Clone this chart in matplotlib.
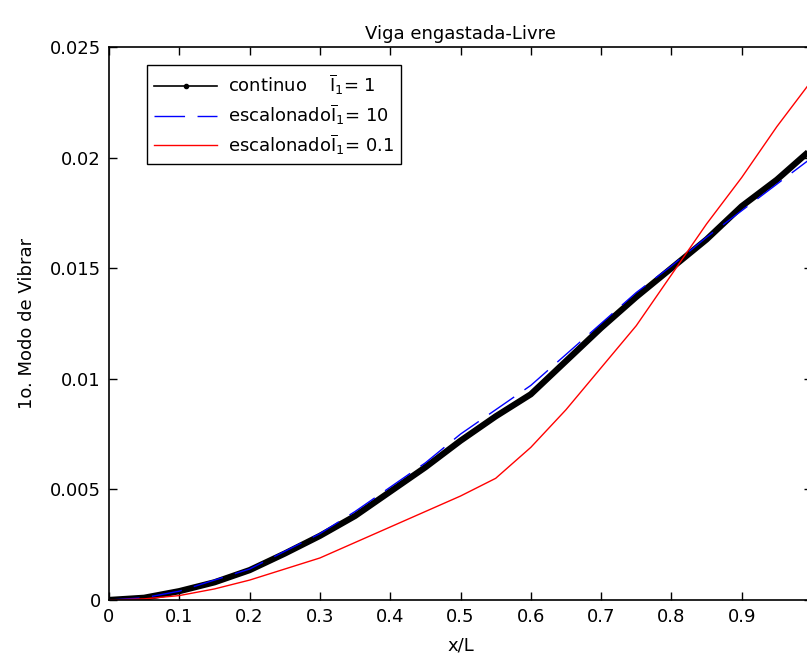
import matplotlib
matplotlib.use('Agg')
import matplotlib.pyplot as plt
from matplotlib.lines import Line2D
from matplotlib.ticker import FuncFormatter

plt.rcParams['font.family'] = ['DejaVu Sans']
plt.rcParams['mathtext.fontset'] = 'dejavusans'

# --- dados ---
x = [0.0, 0.05, 0.1, 0.15, 0.2, 0.25, 0.3, 0.35, 0.4, 0.45, 0.5,
     0.55, 0.6, 0.65, 0.7, 0.75, 0.8, 0.85, 0.9, 0.95, 1.0]
continuo = [0.0, 0.0001, 0.0004, 0.0008, 0.00135, 0.0021, 0.0029, 0.0038, 0.0049, 0.0060, 0.0072,
            0.0083, 0.0093, 0.0108, 0.0123, 0.0137, 0.0150, 0.0163, 0.0178, 0.0190, 0.0204]
escal_10 = [0.0, 0.0001, 0.0004, 0.0009, 0.0014, 0.0022, 0.0030, 0.0040, 0.0051, 0.0062, 0.0075,
            0.0086, 0.0097, 0.0111, 0.0125, 0.0139, 0.0151, 0.0164, 0.0176, 0.0188, 0.0200]
escal_01 = [0.0, 0.00005, 0.0002, 0.0005, 0.0009, 0.0014, 0.0019, 0.0026, 0.0033, 0.0040, 0.0047,
            0.0055, 0.0069, 0.0086, 0.0105, 0.0124, 0.0147, 0.0170, 0.0191, 0.0214, 0.0235]

labels = [r'continuo    $\overline{\mathrm{I}}_1$= 1',
          r'escalonado$\overline{\mathrm{I}}_1$= 10',
          r'escalonado$\overline{\mathrm{I}}_1$= 0.1']

xticks = [i / 10 for i in range(11)]
xticklabels = ['0', '0.1', '0.2', '0.3', '0.4', '0.5', '0.6', '0.7', '0.8', '0.9', '']
yticks = [0, 0.005, 0.01, 0.015, 0.02, 0.025]

fig = plt.figure(figsize=(8.07, 6.55), dpi=100)
# eixo vai um pouco alem da borda direita, como no original
ax = fig.add_axes([109 / 807, 55 / 655, 703 / 807, 553 / 655])

ax.plot(x, continuo, color='k', lw=4.5, solid_capstyle='butt')
ax.plot(x, escal_10, color='b', lw=1, dashes=(22, 9))
ax.plot(x, escal_01, color='r', lw=1)

ax.set_xlim(0, 1)
ax.set_ylim(0, 0.025)
ax.set_xticks(xticks)
ax.set_xticklabels(xticklabels)
ax.set_yticks(yticks)
ax.yaxis.set_major_formatter(FuncFormatter(lambda v, p: '%g' % round(v, 4)))
ax.tick_params(direction='in', top=True, right=True, length=6, width=1,
               labelsize=13, pad=6)
for s in ax.spines.values():
    s.set_linewidth(1.2)

ax.set_title('Viga engastada-Livre', fontsize=13, pad=6)
ax.set_xlabel('x/L', fontsize=13, labelpad=7)
ax.set_ylabel('1o. Modo de Vibrar', fontsize=13, labelpad=10)

handles = [Line2D([], [], color='k', lw=1.2, marker='.', markersize=6),
           Line2D([], [], color='b', lw=1, dashes=(22, 9)),
           Line2D([], [], color='r', lw=1)]
leg = ax.legend(handles, labels, loc='upper left', bbox_to_anchor=(0.054, 0.967),
                fontsize=13, handlelength=3.5, handletextpad=0.6, borderpad=0.4,
                labelspacing=0.3, fancybox=False, framealpha=1, borderaxespad=0)
leg.get_frame().set_edgecolor('k')
leg.get_frame().set_linewidth(1)

fig.savefig('out.png', dpi=100)
